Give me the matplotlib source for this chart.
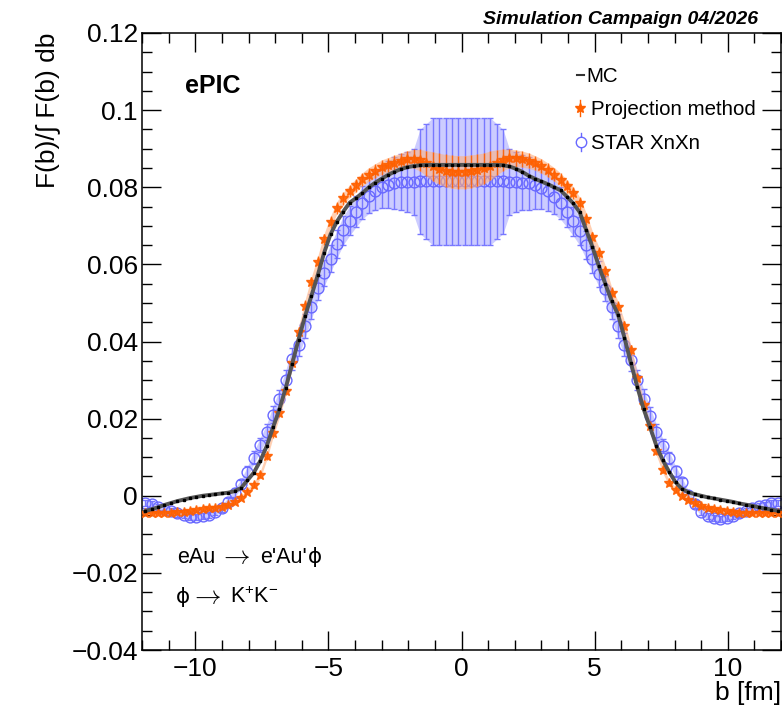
import numpy as np
import matplotlib
matplotlib.use("Agg")
import matplotlib.pyplot as plt
from matplotlib.ticker import MultipleLocator, FuncFormatter
from matplotlib.lines import Line2D

plt.rcParams['font.family'] = ['Liberation Sans', 'DejaVu Sans']
plt.rcParams['mathtext.fontset'] = 'custom'
plt.rcParams['mathtext.rm'] = 'Liberation Sans'
plt.rcParams['mathtext.it'] = 'Liberation Sans:italic'
plt.rcParams['mathtext.bf'] = 'Liberation Sans:bold'

# 100 bins in b between -12 and 12 fm
bin_edges = np.linspace(-12, 12, 101)
b = 0.5 * (bin_edges[:-1] + bin_edges[1:])

# MC truth
mc = [-0.0040, -0.0035, -0.0030, -0.0024, -0.0019, -0.0014, -0.0010, -0.0006, -0.0003, 0.0000,
      0.0002, 0.0004, 0.0006, 0.0008, 0.0012, 0.0020, 0.0040, 0.0060, 0.0090, 0.0128,
      0.0177, 0.0224, 0.0280, 0.0342, 0.0405, 0.0465, 0.0518, 0.0572, 0.0630, 0.0678,
      0.0711, 0.0737, 0.0760, 0.0772, 0.0785, 0.0800, 0.0812, 0.0822, 0.0832, 0.0840,
      0.0847, 0.0852, 0.0855, 0.0857, 0.0858, 0.0858, 0.0858, 0.0858, 0.0858, 0.0858,
      0.0858, 0.0858, 0.0858, 0.0858, 0.0858, 0.0858, 0.0857, 0.0854, 0.0848, 0.0840,
      0.0830, 0.0822, 0.0815, 0.0808, 0.0800, 0.0792, 0.0776, 0.0758, 0.0735, 0.0690,
      0.0645, 0.0595, 0.0550, 0.0505, 0.0470, 0.0410, 0.0345, 0.0283, 0.0225, 0.0178,
      0.0130, 0.0092, 0.0062, 0.0035, 0.0018, 0.0009, 0.0004, 0.0000, -0.0004, -0.0007,
      -0.0010, -0.0013, -0.0016, -0.0020, -0.0023, -0.0026, -0.0030, -0.0033, -0.0036, -0.0039]

# projection method
proj = [-0.0044, -0.0044, -0.0044, -0.0044, -0.0044, -0.0043, -0.0042, -0.0040, -0.0038, -0.0035,
        -0.0033, -0.0031, -0.0028, -0.0023, -0.0016, -0.0006, 0.0011, 0.0027, 0.0054, 0.0102,
        0.0162, 0.0215, 0.0272, 0.0343, 0.0425, 0.0493, 0.0553, 0.0606, 0.0665, 0.0710,
        0.0747, 0.0771, 0.0790, 0.0805, 0.0821, 0.0833, 0.0843, 0.0852, 0.0858, 0.0863,
        0.0868, 0.0873, 0.0874, 0.0870, 0.0862, 0.0854, 0.0848, 0.0843, 0.0840, 0.0839,
        0.0839, 0.0841, 0.0844, 0.0849, 0.0856, 0.0864, 0.0871, 0.0875, 0.0875, 0.0873,
        0.0869, 0.0863, 0.0855, 0.0845, 0.0833, 0.0820, 0.0802, 0.0785, 0.0758, 0.0718,
        0.0670, 0.0630, 0.0582, 0.0527, 0.0490, 0.0440, 0.0378, 0.0305, 0.0235, 0.0180,
        0.0115, 0.0068, 0.0033, 0.0015, 0.0000, -0.0012, -0.0020, -0.0026, -0.0031, -0.0035,
        -0.0038, -0.0040, -0.0042, -0.0044, -0.0045, -0.0046, -0.0046, -0.0046, -0.0045, -0.0044]
proj_err = [0.0004, 0.0004, 0.0004, 0.0004, 0.0004, 0.0004, 0.0004, 0.0004, 0.0004, 0.0004,
            0.0004, 0.0004, 0.0005, 0.0005, 0.0005, 0.0006, 0.0007, 0.0008, 0.0009, 0.0010,
            0.0011, 0.0012, 0.0012, 0.0013, 0.0013, 0.0014, 0.0014, 0.0015, 0.0015, 0.0015,
            0.0016, 0.0016, 0.0016, 0.0017, 0.0017, 0.0018, 0.0018, 0.0019, 0.0019, 0.0020,
            0.0021, 0.0022, 0.0024, 0.0028, 0.0033, 0.0038, 0.0040, 0.0042, 0.0043, 0.0043,
            0.0043, 0.0043, 0.0042, 0.0040, 0.0038, 0.0033, 0.0028, 0.0024, 0.0022, 0.0021,
            0.0020, 0.0019, 0.0019, 0.0018, 0.0018, 0.0017, 0.0017, 0.0016, 0.0016, 0.0016,
            0.0015, 0.0015, 0.0015, 0.0014, 0.0014, 0.0013, 0.0013, 0.0012, 0.0012, 0.0011,
            0.0010, 0.0009, 0.0008, 0.0007, 0.0006, 0.0005, 0.0005, 0.0005, 0.0004, 0.0004,
            0.0004, 0.0004, 0.0004, 0.0004, 0.0004, 0.0004, 0.0004, 0.0004, 0.0004, 0.0004]

# STAR XnXn
star = [-0.0018, -0.0022, -0.0029, -0.0035, -0.0040, -0.0046, -0.0050, -0.0054, -0.0055, -0.0053,
        -0.0049, -0.0042, -0.0032, -0.0015, 0.0008, 0.0030, 0.0062, 0.0099, 0.0132, 0.0165,
        0.0210, 0.0250, 0.0300, 0.0355, 0.0392, 0.0440, 0.0490, 0.0540, 0.0578, 0.0615,
        0.0652, 0.0688, 0.0713, 0.0737, 0.0760, 0.0778, 0.0790, 0.0800, 0.0807, 0.0811,
        0.0813, 0.0814, 0.0814, 0.0815, 0.0815, 0.0815, 0.0815, 0.0815, 0.0815, 0.0815,
        0.0815, 0.0815, 0.0815, 0.0815, 0.0815, 0.0815, 0.0815, 0.0814, 0.0813, 0.0812,
        0.0810, 0.0806, 0.0799, 0.0789, 0.0776, 0.0759, 0.0736, 0.0712, 0.0686, 0.0650,
        0.0613, 0.0576, 0.0537, 0.0490, 0.0440, 0.0392, 0.0352, 0.0300, 0.0252, 0.0208,
        0.0165, 0.0130, 0.0098, 0.0063, 0.0035, 0.0002, -0.0022, -0.0042, -0.0053, -0.0058,
        -0.0060, -0.0058, -0.0053, -0.0046, -0.0040, -0.0033, -0.0027, -0.0023, -0.0020, -0.0018]
star_err = [0.0008, 0.0008, 0.0008, 0.0008, 0.0008, 0.0008, 0.0008, 0.0008, 0.0008, 0.0008,
            0.0008, 0.0008, 0.0009, 0.0010, 0.0011, 0.0012, 0.0014, 0.0016, 0.0018, 0.0020,
            0.0022, 0.0024, 0.0026, 0.0028, 0.0030, 0.0031, 0.0032, 0.0033, 0.0034, 0.0035,
            0.0036, 0.0037, 0.0038, 0.0040, 0.0042, 0.0046, 0.0050, 0.0055, 0.0062, 0.0068,
            0.0072, 0.0078, 0.0085, 0.0135, 0.0150, 0.0165, 0.0165, 0.0165, 0.0165, 0.0165,
            0.0165, 0.0165, 0.0165, 0.0165, 0.0165, 0.0150, 0.0135, 0.0085, 0.0078, 0.0072,
            0.0068, 0.0062, 0.0055, 0.0050, 0.0046, 0.0042, 0.0040, 0.0038, 0.0037, 0.0036,
            0.0035, 0.0034, 0.0033, 0.0032, 0.0031, 0.0030, 0.0028, 0.0026, 0.0024, 0.0022,
            0.0020, 0.0018, 0.0016, 0.0014, 0.0012, 0.0011, 0.0010, 0.0009, 0.0008, 0.0008,
            0.0008, 0.0008, 0.0008, 0.0008, 0.0008, 0.0008, 0.0008, 0.0008, 0.0008, 0.0008]

mc = np.array(mc)
proj = np.array(proj)
proj_err = np.array(proj_err)
star = np.array(star)
star_err = np.array(star_err)

W, H = 782, 707
fig = plt.figure(figsize=(W / 100, H / 100), dpi=100)
ax = fig.add_axes([142 / W, 57 / H, (781 - 142) / W, (650 - 33) / H])

c_blue = '#6868ff'
c_orange = '#ff6000'

# STAR XnXn
ax.fill_between(b, star - star_err, star + star_err, color='#ccccff', lw=0, zorder=1)
ax.errorbar(b, star, yerr=star_err, fmt='o', ms=7.8, mfc='none', mec=c_blue, mew=1.0,
            ecolor='#7878ff', elinewidth=1.0, capsize=2.2, capthick=1.0, zorder=2)

# projection method
ax.fill_between(b, proj - proj_err, proj + proj_err, color='#ffb080', alpha=0.6, lw=0, zorder=3)
ax.errorbar(b, proj, yerr=proj_err, fmt='*', ms=7, color=c_orange, mec=c_orange,
            ecolor=c_orange, elinewidth=1.0, capsize=0, alpha=0.9, zorder=4)

# MC
ax.plot(b, mc, '-', color='#555555', lw=2.8, zorder=5)
ax.plot(b, mc, 's', color='black', ms=1.5, zorder=6)

ax.set_xlim(-12, 12)
ax.set_ylim(-0.04, 0.12)

ax.xaxis.set_major_locator(MultipleLocator(5))
ax.xaxis.set_minor_locator(MultipleLocator(1))
ax.yaxis.set_major_locator(MultipleLocator(0.02))
ax.yaxis.set_minor_locator(MultipleLocator(0.005))


def fmt(v, pos):
    s = f"{v:.2f}".rstrip('0').rstrip('.')
    if s in ('-0', '0'):
        return '0'
    return s.replace('-', '\u2212')


ax.yaxis.set_major_formatter(FuncFormatter(fmt))
ax.xaxis.set_major_formatter(FuncFormatter(fmt))

ax.tick_params(which='both', direction='in', top=True, right=True, width=1.0, labelsize=19)
ax.tick_params(which='major', length=13.5)
ax.tick_params(which='minor', length=7)
ax.tick_params(axis='y', pad=3)
ax.tick_params(axis='x', pad=5)
for s in ax.spines.values():
    s.set_linewidth(1.1)

ax.set_xlabel('b [fm]', fontsize=19, loc='right')
ax.xaxis.set_label_coords(1.0, -0.05)
ax.set_ylabel('F(b)/\u222b F(b) db', fontsize=19, loc='top')
ax.yaxis.set_label_coords(-0.128, 1.0)


def fx(px):
    return px / W


def fy(py):
    return 1 - py / H


fig.text(fx(758), fy(24), 'Simulation Campaign 04/2026', fontsize=14, fontweight='bold',
         fontstyle='italic', ha='right', va='baseline')
fig.text(fx(185), fy(93), 'ePIC', fontsize=18, fontweight='bold', ha='left', va='baseline')

# process labels, pieces placed at pixel positions
sans = ['Liberation Sans', 'DejaVu Sans']
sym = ['DejaVu Sans']
arrow = r"$\rightarrow$"
fig.text(fx(177), fy(563), "eAu", fontsize=15.5, family=sans, ha='left', va='baseline')
fig.text(fx(219), fy(563), arrow, fontsize=19, math_fontfamily='cm', ha='left', va='baseline')
fig.text(fx(260), fy(563), "e'Au'", fontsize=15.5, family=sans, ha='left', va='baseline')
fig.text(fx(308), fy(563), "\u03d5", fontsize=15.5, family=sym, ha='left', va='baseline')
fig.text(fx(176), fy(603), "\u03d5", fontsize=15.5, family=sym, ha='left', va='baseline')
fig.text(fx(190), fy(603), arrow, fontsize=19, math_fontfamily='cm', ha='left', va='baseline')
fig.text(fx(230), fy(603), "K$^{+}$K$^{-}$", fontsize=15.5, family=sans, ha='left',
         va='baseline')

# legend
fs_leg = 14.8
fig.add_artist(Line2D([fx(577), fx(584)], [fy(75), fy(75)], color='#333333', lw=1.5))
fig.text(fx(586), fy(82), 'MC', fontsize=fs_leg, ha='left', va='baseline')
fig.add_artist(Line2D([fx(580), fx(580)], [fy(100), fy(116)], color=c_orange, lw=1.0))
fig.add_artist(Line2D([fx(580)], [fy(108)], marker='*', ms=7, color=c_orange, lw=0))
fig.text(fx(591), fy(115), 'Projection method', fontsize=fs_leg, ha='left', va='baseline')
fig.add_artist(Line2D([fx(581), fx(581)], [fy(133), fy(151)], color=c_blue, lw=1.0))
fig.add_artist(Line2D([fx(581)], [fy(142)], marker='o', ms=7.5, mfc='white', mec=c_blue,
                      mew=1.0, lw=0))
fig.text(fx(591), fy(149), 'STAR XnXn', fontsize=fs_leg, ha='left', va='baseline')

fig.savefig('out.png', dpi=100)
